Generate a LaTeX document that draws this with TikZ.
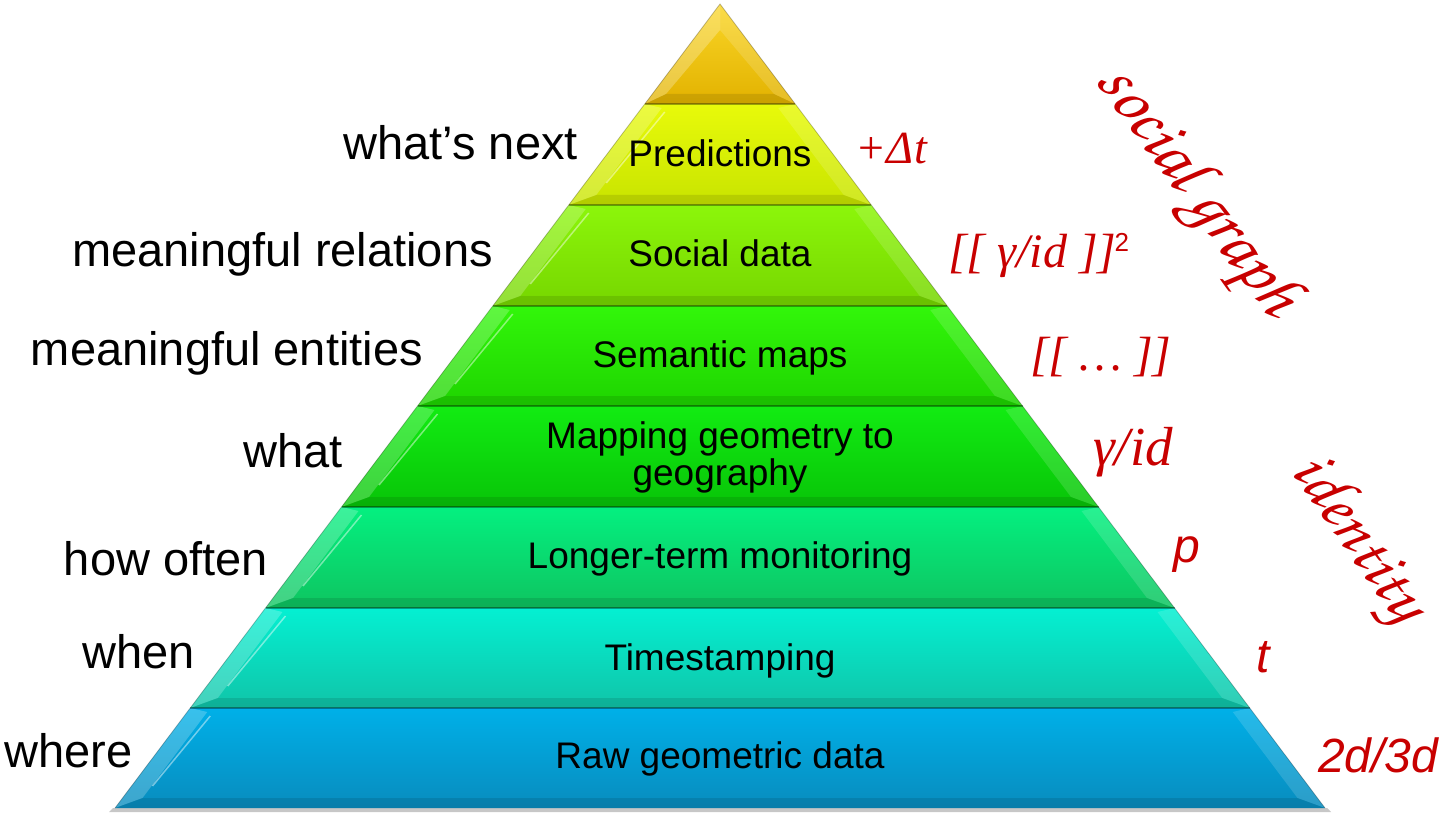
\documentclass[tikz,border=0pt]{standalone}
\usepackage{fontspec}
\usepackage{graphicx}
\setmainfont{Liberation Sans}
\newfontfamily\rserif{Liberation Serif}
\definecolor{lblred}{RGB}{200,0,0}
\newcommand{\scriptfnt}{\fontencoding{T1}\fontfamily{pzc}\fontseries{mb}\fontshape{it}\selectfont}
\newcommand{\pyrlayer}[4]{%
  \pgfmathsetmacro\wt{(#1-4)*0.75249}%
  \pgfmathsetmacro\wb{(#2-4)*0.75249}%
  \pgfmathsetmacro\wit{(#1)*0.75249-20}%
  \pgfmathsetmacro\wib{(#2-14)*0.75249-20}%
  \shade[top color=#3, bottom color=#4] (720-\wt,#1) -- (720+\wt,#1) -- (720+\wb,#2) -- (720-\wb,#2) -- cycle;
  \fill[white,opacity=.22] (720-\wt,#1) -- (720-\wb,#2) -- (720-\wib,#2-10) -- (720-\wit,#1+4) -- cycle;
  \fill[white,opacity=.14] (720+\wt,#1) -- (720+\wb,#2) -- (720+\wib,#2-10) -- (720+\wit,#1+4) -- cycle;
  \fill[black,opacity=.10] (720-\wb,#2) -- (720+\wb,#2) -- (720+\wib,#2-10) -- (720-\wib,#2-10) -- cycle;
  \draw[white,opacity=.45,line width=1.5] (720-\wit+3,#1+8) -- (720-\wib+10,#2-22);
  \draw[black,opacity=.35,line width=1.3] (720-\wt,#1) -- (720+\wt,#1);
  \draw[black,opacity=.25,line width=.8] (720-\wt,#1) -- (720-\wb,#2) (720+\wt,#1) -- (720+\wb,#2);
}
\tikzset{
  lft/.style={font=\fontsize{47}{47}\selectfont, inner sep=0pt, anchor=base east},
  ltxt/.style={font=\fontsize{37}{37}\selectfont, inner sep=0pt, anchor=base, align=center},
  rser/.style={font=\fontsize{48}{48}\selectfont\rserif\itshape, text=lblred, inner sep=0pt, anchor=base west},
  rsans/.style={font=\fontsize{48}{48}\selectfont\itshape, text=lblred, inner sep=0pt, anchor=base west},
  rscript/.style={text=lblred, inner sep=0pt}
}
\begin{document}
\begin{tikzpicture}[x=1pt,y=-1pt]
\useasboundingbox (0,0) rectangle (1441,813);
% shadow
\fill[black!22] (113,808) -- (1327,808) -- (1331,812) -- (109,812) -- cycle;
% apex
\shade[top color={rgb,255:red,250;green,214;blue,40}, bottom color={rgb,255:red,226;green,178;blue,0}] (720,4) -- (795.2,104) -- (644.8,104) -- cycle;
\fill[white,opacity=.25] (720,4) -- (644.8,104) -- (666,94) -- (720,30) -- cycle;
\fill[white,opacity=.15] (720,4) -- (795.2,104) -- (774,94) -- (720,30) -- cycle;
\fill[black,opacity=.10] (644.8,104) -- (795.2,104) -- (774,94) -- (666,94) -- cycle;
\draw[black,opacity=.25,line width=.8] (644.8,104) -- (720,4) -- (795.2,104);
% layers
\pyrlayer{104}{205}{{rgb,255:red,232;green,250;blue,10}}{{rgb,255:red,200;green,228;blue,0}}
\pyrlayer{205}{306}{{rgb,255:red,140;green,246;blue,10}}{{rgb,255:red,118;green,214;blue,0}}
\pyrlayer{306}{406}{{rgb,255:red,50;green,246;blue,10}}{{rgb,255:red,30;green,212;blue,0}}
\pyrlayer{406}{507}{{rgb,255:red,18;green,236;blue,18}}{{rgb,255:red,8;green,196;blue,8}}
\pyrlayer{507}{608}{{rgb,255:red,4;green,240;blue,128}}{{rgb,255:red,14;green,196;blue,96}}
\pyrlayer{608}{708}{{rgb,255:red,4;green,240;blue,210}}{{rgb,255:red,16;green,196;blue,168}}
\pyrlayer{708}{808}{{rgb,255:red,0;green,176;blue,232}}{{rgb,255:red,8;green,140;blue,190}}
% layer texts
\node[ltxt] (t1) at (720,167) {Predictions};
\node[ltxt] (t2) at (720,267) {Social data};
\node[ltxt] (t3) at (720,367) {Semantic maps};
\node[ltxt] (t4) at (720,485) {Mapping geometry to\\geography};
\node[ltxt] (t5) at (720,568) {Longer-term monitoring};
\node[ltxt] (t6) at (720,670) {Timestamping};
\node[ltxt] (t7) at (720,768) {Raw geometric data};
% left labels
\node[lft] (q1) at (578,160) {what’s next};
\node[lft] (q2) at (493,267) {meaningful relations};
\node[lft] (q3) at (423,365) {meaningful entities};
\node[lft] (q4) at (343,467) {what};
\node[lft] (q5) at (268,575) {how often};
\node[lft] (q6) at (195,668) {when};
\node[lft] (q7) at (133,767) {where};
% right labels
\node[rser, font=\fontsize{46}{46}\selectfont\rserif\itshape] (r1) at (855,164) {+Δ\kern1pt t};
\node[rser] (r2) at (948,268) {[[ γ/id ]]\kern-2pt\raisebox{16pt}{\fontsize{26}{26}\selectfont\rmfamily\upshape 2}};
\node[rser] (r3) at (1030,370) {[[ … ]]};
\node[rser, font=\fontsize{55}{55}\selectfont\rserif\itshape] (r4) at (1093,465) {γ/id};
\node[rsans] (r5) at (1173,562) {p};
\node[rsans] (r6) at (1256,672) {t};
\node[rsans] (r7) at (1318,772) {2d/3d};
% script labels
\node[rscript, rotate=-53.5] (s1) at (1195,192) {\resizebox{295pt}{!}{\scriptfnt social graph}};
\node[rscript, rotate=-55] (s2) at (1356,540) {\resizebox{188pt}{!}{\scriptfnt identity}};
\end{tikzpicture}
\end{document}
